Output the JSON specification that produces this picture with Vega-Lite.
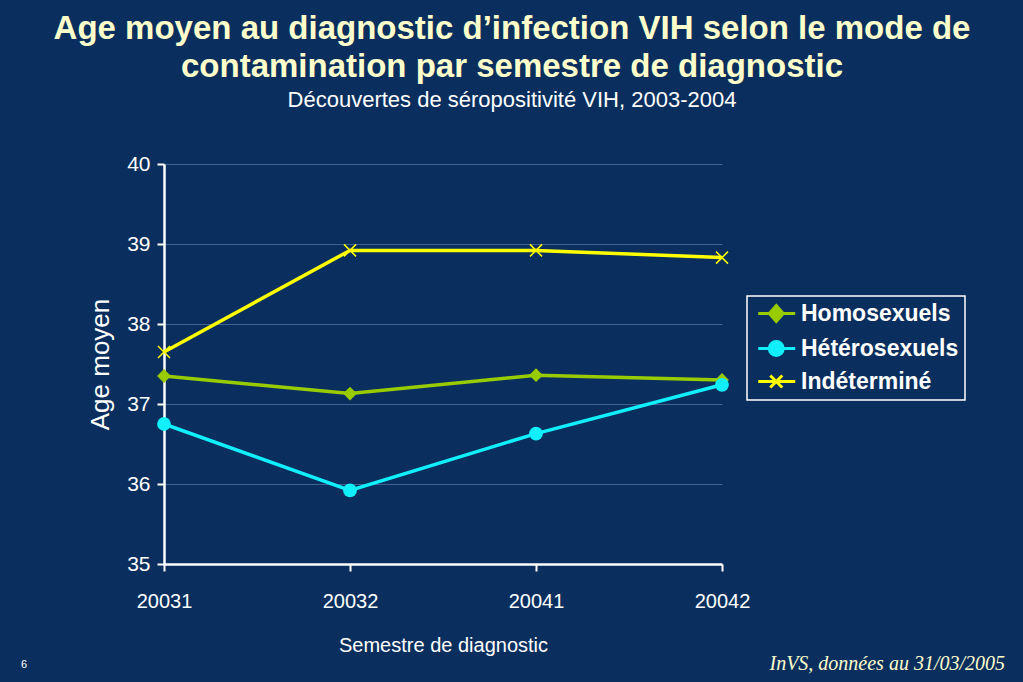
{
  "$schema": "https://vega.github.io/schema/vega-lite/v6.json",
  "autosize": "none",
  "width": 558,
  "height": 400,
  "padding": {"left": 164, "top": 164, "right": 301, "bottom": 118},
  "background": "#0a2f5e",
  "title": {
    "text": ["Age moyen au diagnostic d’infection VIH selon le mode de", "contamination par semestre de diagnostic"],
    "subtitle": "Découvertes de séropositivité VIH, 2003-2004",
    "anchor": "middle",
    "frame": "group",
    "dx": 69,
    "offset": 42,
    "font": "Liberation Sans",
    "fontSize": 33,
    "fontWeight": "bold",
    "lineHeight": 38,
    "color": "#FFFFCC",
    "subtitleFont": "Liberation Sans",
    "subtitleFontSize": 22,
    "subtitleColor": "#FFFFFF",
    "subtitlePadding": 6
  },
  "data": {
    "values": [
      {"semestre": "20031", "mode": "Homosexuels", "age": 37.35},
      {"semestre": "20032", "mode": "Homosexuels", "age": 37.13},
      {"semestre": "20041", "mode": "Homosexuels", "age": 37.36},
      {"semestre": "20042", "mode": "Homosexuels", "age": 37.30},
      {"semestre": "20031", "mode": "Hétérosexuels", "age": 36.75},
      {"semestre": "20032", "mode": "Hétérosexuels", "age": 35.92},
      {"semestre": "20041", "mode": "Hétérosexuels", "age": 36.63},
      {"semestre": "20042", "mode": "Hétérosexuels", "age": 37.24},
      {"semestre": "20031", "mode": "Indéterminé", "age": 37.65},
      {"semestre": "20032", "mode": "Indéterminé", "age": 38.92},
      {"semestre": "20041", "mode": "Indéterminé", "age": 38.92},
      {"semestre": "20042", "mode": "Indéterminé", "age": 38.83}
    ]
  },
  "encoding": {
    "x": {
      "field": "semestre",
      "type": "ordinal",
      "scale": {"type": "point", "padding": 0},
      "axis": {
        "title": "Semestre de diagnostic",
        "labelAngle": 0,
        "labelPadding": 20,
        "titlePadding": 24,
        "tickSize": 7
      }
    },
    "y": {
      "field": "age",
      "type": "quantitative",
      "scale": {"domain": [35, 40], "nice": false, "zero": false},
      "axis": {
        "title": "Age moyen",
        "values": [35, 36, 37, 38, 39, 40],
        "tickSize": 7,
        "labelPadding": 7,
        "titlePadding": 13,
        "titleFontSize": 26,
        "grid": true
      }
    }
  },
  "layer": [
    {
      "mark": {"type": "line", "strokeWidth": 3.5},
      "encoding": {
        "color": {
          "field": "mode",
          "type": "nominal",
          "scale": {
            "domain": ["Homosexuels", "Hétérosexuels", "Indéterminé"],
            "range": ["#99CC00", "#11F0FA", "#FFFF00"]
          },
          "legend": {
            "title": null,
            "orient": "none",
            "legendX": 583,
            "legendY": 132,
            "padding": 6,
            "fillColor": "#0a2f5e",
            "strokeColor": "#FFFFFF",
            "symbolSize": 160,
            "labelOffset": 25,
            "labelLimit": 400,
            "labelFont": "Liberation Sans",
            "labelFontSize": 23,
            "labelFontWeight": "bold",
            "labelColor": "#FFFFFF",
            "rowPadding": 7,
            "encode": {
              "legend": {"update": {"strokeWidth": {"value": 1.5}}},
              "symbols": {
                "update": {
                  "shape": {"signal": "datum.value == 'Homosexuels' ? 'M-0.99,0L4.86,0M1.86,-1.25L2.96,0L1.86,1.25L0.76,0Z' : datum.value == 'Hétérosexuels' ? 'M-0.99,0L4.86,0M0.76,0A1.1,1.1,0,1,1,2.96,0A1.1,1.1,0,1,1,0.76,0Z' : 'M-0.99,0L4.86,0M0.91,-0.95L2.81,0.95M0.91,0.95L2.81,-0.95'"},
                  "fill": {"scale": "color", "field": "value"},
                  "stroke": {"scale": "color", "field": "value"},
                  "strokeWidth": {"value": 3},
                  "opacity": {"value": 1},
                  "fillOpacity": {"value": 1},
                  "strokeOpacity": {"value": 1}
                }
              }
            }
          }
        }
      }
    },
    {
      "transform": [{"filter": "datum.mode == 'Homosexuels'"}],
      "mark": {"type": "point", "shape": "diamond", "filled": true, "opacity": 1, "size": 190},
      "encoding": {"color": {"field": "mode", "type": "nominal"}}
    },
    {
      "transform": [{"filter": "datum.mode == 'Hétérosexuels'"}],
      "mark": {"type": "point", "shape": "circle", "filled": true, "opacity": 1, "size": 190},
      "encoding": {"color": {"field": "mode", "type": "nominal"}}
    },
    {
      "transform": [{"filter": "datum.mode == 'Indéterminé'"}],
      "mark": {"type": "point", "shape": "M-1,-1L1,1M-1,1L1,-1", "filled": false, "opacity": 1, "size": 144, "strokeWidth": 1.5},
      "encoding": {"color": {"field": "mode", "type": "nominal"}}
    },
    {
      "data": {"values": [{"note": "InVS, données au 31/03/2005", "semestre": "20042", "age": 35}]},
      "mark": {"type": "text", "align": "right", "baseline": "middle", "dx": 283, "dy": 100, "font": "Liberation Serif", "fontStyle": "italic", "fontSize": 20, "fill": "#FFFFCC"},
      "encoding": {
        "text": {"field": "note"}
      }
    },
    {
      "data": {"values": [{"page": "6", "semestre": "20031", "age": 35}]},
      "mark": {"type": "text", "align": "center", "baseline": "middle", "dx": -140, "dy": 101, "font": "Liberation Sans", "fontSize": 11, "fill": "#FFFFFF"},
      "encoding": {
        "text": {"field": "page"}
      }
    }
  ],
  "config": {
    "view": {"stroke": null},
    "axis": {
      "domainColor": "#FFFFFF",
      "domainWidth": 2.5,
      "tickColor": "#FFFFFF",
      "tickWidth": 2,
      "gridColor": "#5577aa",
      "gridWidth": 1,
      "gridOpacity": 0.7,
      "labelColor": "#FFFFFF",
      "labelFont": "Liberation Sans",
      "labelFontSize": 20,
      "titleColor": "#FFFFFF",
      "titleFont": "Liberation Sans",
      "titleFontSize": 20,
      "titleFontWeight": "normal"
    },
    "axisY": {"labelFontSize": 21},
    "axisX": {"grid": false}
  }
}
